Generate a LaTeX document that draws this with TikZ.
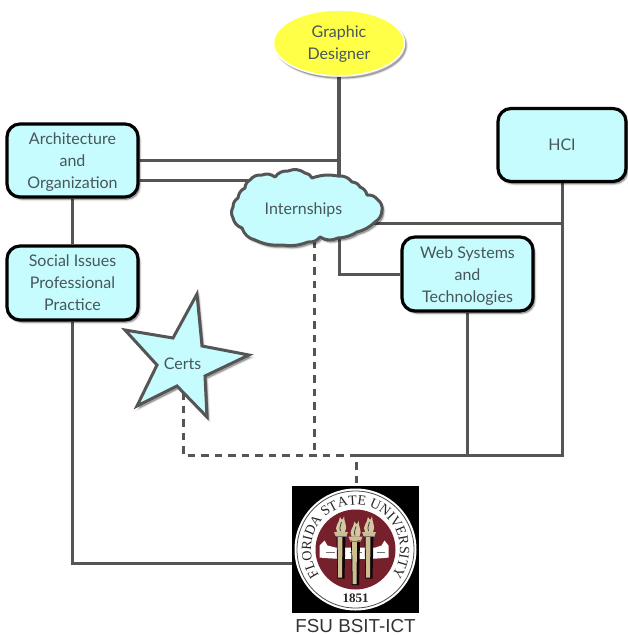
\documentclass[tikz,border=0pt]{standalone}
\usepackage{fontspec}
\setmainfont{Lato}
\newfontfamily\capfont{Liberation Sans}
\newfontfamily\sealfont{Liberation Serif}
\usetikzlibrary{shapes.geometric,shadows,backgrounds,calc,decorations.text}
\definecolor{tealfill}{HTML}{C6FCFD}
\definecolor{ink}{HTML}{47565A}
\definecolor{wire}{HTML}{555555}
\definecolor{seal}{HTML}{76202C}
\definecolor{gold}{HTML}{CDBE92}
\definecolor{sun}{HTML}{FFFF47}
\newcommand{\tlines}[3][120pt]{\raisebox{#2}[\height][\depth]{\parbox{#1}{\centering #3}}}
\tikzset{
  softshade/.style={
    general shadow={fill=black,draw=black,line width=3pt,opacity=.06,shadow xshift=2pt,shadow yshift=-2.5pt},
    general shadow={fill=black,draw=black,line width=1.5pt,opacity=.10,shadow xshift=2pt,shadow yshift=-2.5pt},
    general shadow={fill=black,opacity=.16,shadow xshift=2pt,shadow yshift=-2.5pt}},
  lbl/.style={font=\fontsize{16}{22}\selectfont,text=ink,align=center},
  topicbox/.style={softshade,draw=black,line width=3.2pt,fill=tealfill,rounded corners=13pt,inner sep=0pt},
  wirethin/.style={draw=wire,line width=3pt},
  wirethick/.style={draw=wire,line width=4pt},
  wiredash/.style={draw=wire,line width=3pt,dash pattern=on 7.5pt off 6pt},
  puff/.style={bend left=28},
}
\begin{document}
\begin{tikzpicture}[x=1pt,y=-1pt]
\useasboundingbox (0,0) rectangle (627,635);
% topic boxes
\node[topicbox,lbl,minimum width=131pt,minimum height=73pt] (arch) at (72.5,160.5) {\tlines{-2pt}{Architecture\\and\\Organization}};
\node[topicbox,lbl,minimum width=131pt,minimum height=74pt] (social) at (72.5,283) {\tlines{0pt}{Social Issues\\Professional\\Practice}};
\node[topicbox,lbl,minimum width=128pt,minimum height=73pt] (hci) at (562,145) {HCI};
\node[topicbox,lbl,minimum width=131pt,minimum height=74pt] (web) at (467.5,274) {\tlines{-2pt}{Web Systems\\and\\Technologies}};
% goal
\node[lbl,ellipse,softshade,draw=white,line width=1.5pt,fill=sun,minimum width=131pt,minimum height=66pt,inner sep=0pt] (goal) at (339,43) {\tlines[70pt]{-1pt}{Graphic\\Designer}};
% cloud outline
\path[softshade,draw=wire,line width=3pt,fill=tealfill,line join=round]
  (250,180) to[puff] (262,175) to[puff] (275,177) to[puff] (288,171) to[puff] (305,173)
  to[puff] (312,178) to[bend left=14] (338,176) to[puff] (352,182) to[puff] (360,187)
  to[puff] (367,195) to[puff] (378,200) to[puff] (382,210) to[puff] (375,222)
  to[bend left=14] (357,232) to[bend left=14] (338,238) to[puff] (320,237) to[puff] (308,242)
  to[bend left=14] (282,245) to[bend left=14] (255,240) to[puff] (242,228) to[puff] (233,218)
  to[puff] (233,207) to[puff] (238,198) to[puff] (245,188) to[puff] (250,180) -- cycle;
\node[lbl,inner sep=0pt] (intern) at (303.5,209.5) {Internships};
% star
\path[softshade,draw=wire,line width=3pt,fill=tealfill,line join=miter]
  (197,294) -- (173,338) -- (125,330) -- (157,365) -- (137,406) -- (177,386)
  -- (207,417) -- (205,376) -- (249,355) -- (202,346) -- cycle;
\node[lbl,inner sep=0pt] (certs) at (182.5,364) {Certs};
% seal
\node[fill=black,minimum size=127pt,inner sep=0pt] (fsu) at (355.5,549.5) {};
\begin{scope}[shift={(fsu.center)},y=1pt]
  \fill[white] (0,0) circle (61);
  \draw[black!70,line width=.8pt] (0,0) circle (58.5);
  \fill[seal] (0,0) circle (40);
  \path[postaction={decorate},decoration={text along path,text align=center,
     text={|\sealfont\fontsize{14}{14}\selectfont\color{black!85}|FLORIDA STATE UNIVERSITY}}]
     (212:44.5) arc[start angle=212,end angle=-32,radius=44.5];
\end{scope}
\begin{scope}[shift={(fsu.center)}]
  % scroll
  \fill[white] (-36,-4) -- (-31,-9) -- (-28,-4) -- (-20,-2) -- (20,-2) -- (26,-4) -- (29,-9) -- (33,-4) -- (33,8) .. controls (20,10) and (-20,10) .. (-36,8) -- cycle;
  \draw[black!55,line width=.6pt] (-30,3) -- (-21,3) (-6,3) -- (6,3) (21,3) -- (29,3);
  % torches
  \foreach \tx/\ty/\tb in {-14.5/-14.5/29,0/-10/35.5,13.5/-14.5/29}{
    \fill[black!85!seal] (\tx-4.5,\ty) -- (\tx+4.5,\ty) -- (\tx+3.5,\tb) -- (\tx-3.5,\tb) -- cycle;
    \fill[gold] (\tx-3.5,\ty) -- (\tx+1.5,\ty) -- (\tx+1,\tb-1) -- (\tx-2.8,\tb-1) -- cycle;
    \fill[gold] (\tx-7,\ty-3) -- (\tx+7,\ty-3) -- (\tx+5.5,\ty+1) -- (\tx-5.5,\ty+1) -- cycle;
    \fill[black!55] (\tx-5.5,\ty+1) rectangle (\tx+5.5,\ty+2.2);
    \fill[gold!85!white] (\tx-4,\ty-3) .. controls (\tx-7,\ty-9) and (\tx-2,\ty-11) .. (\tx-1,\ty-18)
      .. controls (\tx+1,\ty-14) and (\tx+2,\ty-15) .. (\tx+3,\ty-19)
      .. controls (\tx+3,\ty-12) and (\tx+7,\ty-9) .. (\tx+4,\ty-3) -- cycle;
    \draw[black!75,line width=.8pt] (\tx-.5,\ty-4) .. controls (\tx-2,\ty-8) and (\tx,\ty-10) .. (\tx+.5,\ty-13);
  }
  \node[font=\sealfont\bfseries\fontsize{13}{13}\selectfont,text=black!85,inner sep=0pt] (year) at (0,48.5) {1851};
\end{scope}
\node[font=\capfont\fontsize{18.8}{18.8}\selectfont,text=black!80,inner sep=0pt] (caption) at (355.5,626) {FSU BSIT-ICT};
% connectors
\coordinate (hub) at (563,455);
\coordinate (split) at (356,455);
\coordinate (corner) at (183,455);
\begin{pgfonlayer}{background}
  \fill[white] (0,0) rectangle (627,635);
  \draw[wirethick] (goal.south) -- (339,176);
  \draw[wirethin] ($(arch.east)+(0,-0.5)$) -- (339,160);
  \draw[wirethin] ($(arch.east)+(0,19.5)$) -- (252,180);
  \draw[wirethin] (arch.south) -- (social.north);
  \draw[wirethin] (social.south) |- (fsu.west |- 0,563);
  \draw[wirethin] (372,223) -- (hci.south |- 0,223);
  \draw[wirethin] (hci.south) -- (hci.south |- hub) -- (split);
  \draw[wirethin] (web.south) -- (web.south |- hub);
  \draw[wirethin] (339,238) |- (web.west);
  \draw[wiredash] (314,240) -- (314,455);
  \draw[wiredash] (183,392) -- (corner) -- (split) -- (fsu.north -| split);
\end{pgfonlayer}
\end{tikzpicture}
\end{document}
